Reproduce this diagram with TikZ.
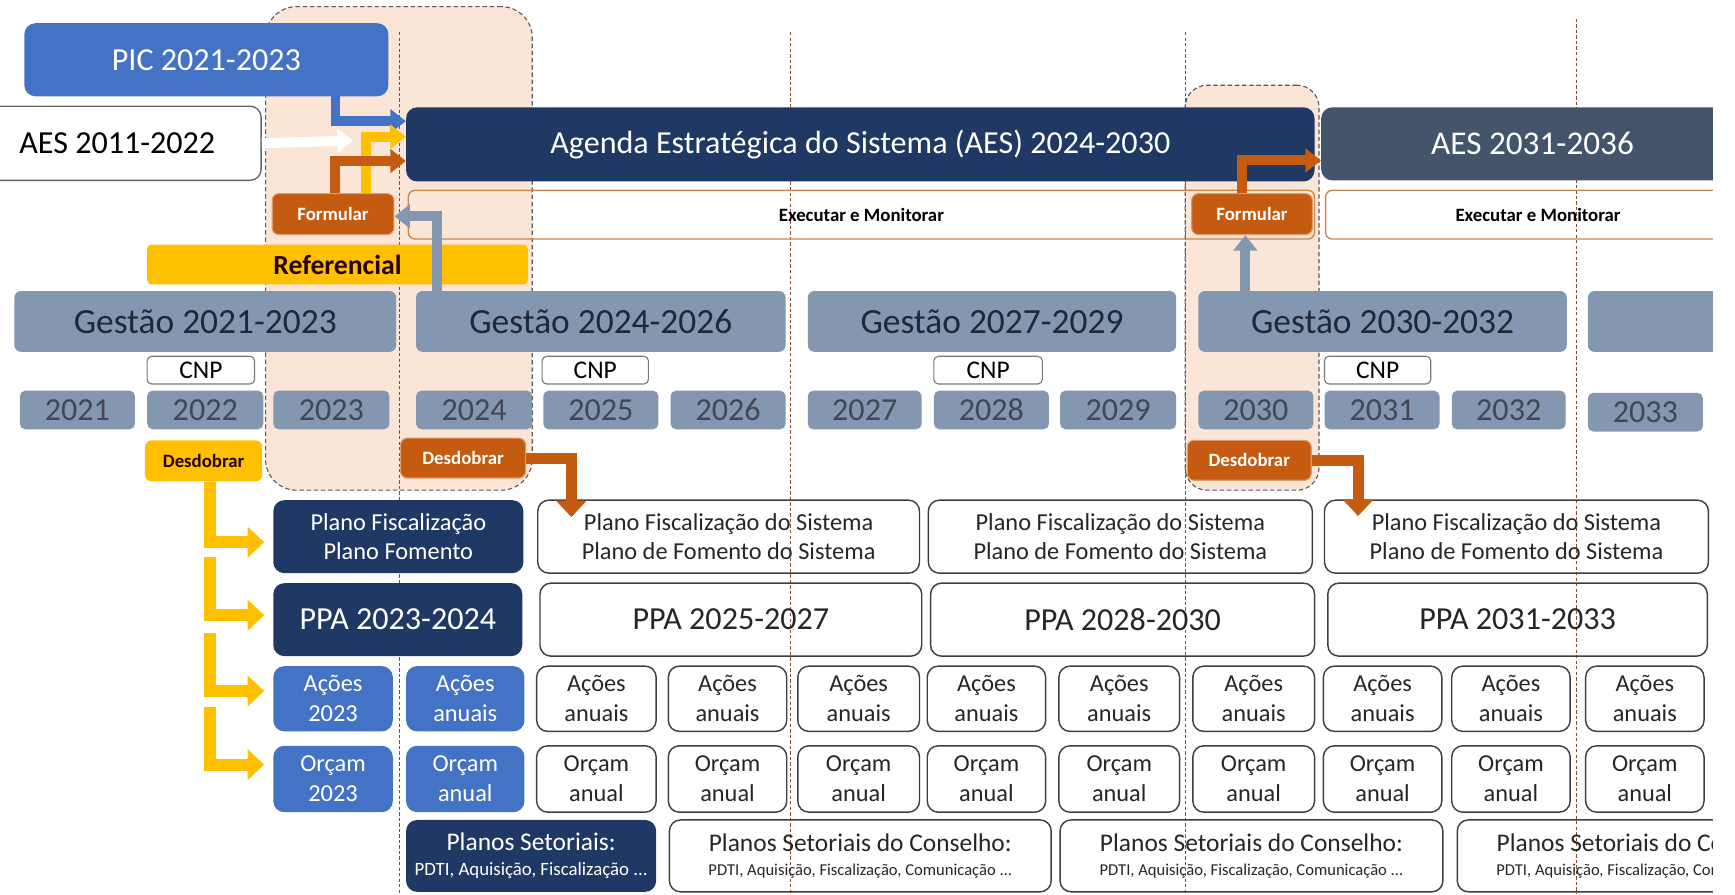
\documentclass[tikz,border=0pt]{standalone}
\usepackage{fontspec}
\setmainfont{Carlito}
\usepackage{tikz}
\usetikzlibrary{positioning,arrows.meta,calc}

\definecolor{navy}{HTML}{1F3864}
\definecolor{midblue}{HTML}{4472C4}
\definecolor{slate}{HTML}{44546A}
\definecolor{greyblue}{HTML}{8497B0}
\definecolor{rust}{HTML}{C55A11}
\definecolor{gold}{HTML}{FFC000}
\definecolor{peach}{HTML}{FBE5D6}
\definecolor{inktext}{HTML}{1E2838}
\definecolor{boxline}{HTML}{3F3F3F}
\definecolor{sepline}{HTML}{8A4A30}
\definecolor{execline}{HTML}{C8874F}

\newcommand{\fsz}[2]{\fontsize{#1}{#2}\selectfont}

\begin{document}
\begin{tikzpicture}[
        x=1pt, y=-1pt,
        boxspan/.style n args={4}{minimum width={(#3-#1)*1pt}, minimum height={(#4-#2)*1pt},
                                  at={({(#1+#3)/2},{(#2+#4)/2})}},
        boxbase/.style={inner sep=0pt, align=center, rounded corners=10pt},
        darkbox/.style={boxbase, fill=navy, text=white, font=\fsz{22}{27}},
        bluebox/.style={boxbase, fill=midblue, text=white, font=\fsz{22}{27}},
        plainbox/.style={boxbase, draw=boxline, line width=1.3pt, text=black!85, font=\fsz{22}{27}},
        gestao/.style={boxbase, rounded corners=6pt, fill=greyblue, text=inktext, font=\fsz{32}{36}},
        yearbox/.style={boxbase, rounded corners=5pt, fill=greyblue, text=inktext!85, font=\fsz{29}{32}},
        cnpbox/.style={boxbase, rounded corners=4pt, draw=boxline!70, fill=white, line width=1pt, text=black, font=\fsz{23}{26}},
        stepbox/.style={boxbase, rounded corners=6pt, font=\fsz{17}{20}\bfseries},
        rustbox/.style={stepbox, fill=rust, draw=rust!60!white, line width=1pt, text=white},
        goldbox/.style={stepbox, fill=gold, text=black!85!red},
        execbar/.style={boxbase, rounded corners=6pt, draw=execline, line width=1.2pt, text=black, font=\fsz{17}{20}\bfseries},
        peachzone/.style={inner sep=0pt, fill=peach, draw=black!65, dash pattern=on 4pt off 2.5pt, line width=1pt},
        yearsep/.style={draw=sepline, line width=0.7pt, dash pattern=on 3pt off 2pt},
        toparrow/.style={line width=9pt, -{Triangle[length=14pt,width=21pt]}},
        fatarrow/.style={line width=11pt, -{Triangle[length=15pt,width=27pt]}},
    ]
    \useasboundingbox (0,0) rectangle (1568,808);

    % formulation periods
    \node[peachzone, rounded corners=28pt, boxspan={240}{6}{481}{443}] (zone1) {};
    \node[peachzone, rounded corners=20pt, boxspan={1071}{77}{1192}{443}] (zone2) {};

    \foreach \sx/\sy in {361/29, 714/29, 1071/29, 1425/17}
        \draw[yearsep] (\sx,\sy) -- (\sx,808);

    % agendas
    \node[boxbase, fill=midblue, text=white, font=\fsz{29}{33}, boxspan={22}{21}{351}{87}] (pic) {PIC 2021-2023};
    \node[boxbase, draw=boxline!80, line width=1.2pt, fill=white, font=\fsz{29}{33}, boxspan={-24}{96}{236}{163}] (aesold) {AES 2011-2022};
    \node[boxbase, fill=navy, text=white, font=\fsz{29}{33}, boxspan={367}{97}{1188}{164}] (agenda) {Agenda Estratégica do Sistema (AES) 2024-2030};
    \node[boxbase, fill=slate, text=white, font=\fsz{30}{33}, boxspan={1194}{97}{1576}{163}] (aesnew) {AES 2031-2036};
    \node[execbar, boxspan={369}{172}{1188}{216}] (exec1) {Executar e Monitorar};
    \node[execbar, boxspan={1198}{172}{1582}{216}] (exec2) {Executar e Monitorar};
    \node[rustbox, boxspan={246}{175}{356}{212}] (form1) {Formular};
    \node[rustbox, boxspan={1077}{175}{1186}{212}] (form2) {Formular};
    \node[goldbox, rounded corners=4pt, font=\fsz{25}{28}\bfseries, boxspan={133}{221}{477}{257}] (ref) {Referencial};

    % gestoes
    \node[gestao, boxspan={13}{263}{358}{318}] (gest1) {Gestão 2021-2023};
    \node[gestao, boxspan={376}{263}{710}{318}] (gest2) {Gestão 2024-2026};
    \node[gestao, boxspan={730}{263}{1063}{318}] (gest3) {Gestão 2027-2029};
    \node[gestao, boxspan={1083}{263}{1416}{318}] (gest4) {Gestão 2030-2032};
    \node[gestao, boxspan={1435}{263}{1769}{318}] (gest5) {};

    \node[cnpbox, boxspan={133}{322}{230}{347}] (cnp1) {CNP};
    \node[cnpbox, boxspan={490}{322}{586}{347}] (cnp2) {CNP};
    \node[cnpbox, boxspan={844}{322}{942}{347}] (cnp3) {CNP};
    \node[cnpbox, boxspan={1197}{322}{1293}{347}] (cnp4) {CNP};

    \foreach \yr/\xa/\xb in {2021/18/122, 2022/133/238, 2023/247/352, 2024/376/481,
            2025/491/595, 2026/606/710, 2027/730/833, 2028/844/948, 2029/958/1063,
            2030/1083/1187, 2031/1197/1301, 2032/1312/1415}
        \node[yearbox, boxspan={\xa}{353}{\xb}{388}] (y\yr) {\yr};
    \node[yearbox, boxspan={1435}{355}{1539}{390}] (y2033) {2033};

    \node[goldbox, boxspan={131}{398}{237}{435}] (desd0) {Desdobrar};
    \node[rustbox, boxspan={362}{396}{475}{432}] (desd1) {Desdobrar};
    \node[rustbox, boxspan={1073}{398}{1185}{434}] (desd2) {Desdobrar};

    % planos
    \node[darkbox, boxspan={247}{452}{473}{518}] (plano0) {Plano Fiscalização\\Plano Fomento};
    \node[plainbox, boxspan={486}{452}{831}{518}] (plano1) {Plano Fiscalização do Sistema\\Plano de Fomento do Sistema};
    \node[plainbox, boxspan={839}{452}{1186}{518}] (plano2) {Plano Fiscalização do Sistema\\Plano de Fomento do Sistema};
    \node[plainbox, boxspan={1197}{452}{1544}{518}] (plano3) {Plano Fiscalização do Sistema\\Plano de Fomento do Sistema};

    \node[darkbox, font=\fsz{29}{33}, boxspan={247}{527}{472}{593}] (ppa0) {PPA 2023-2024};
    \node[plainbox, font=\fsz{29}{33}, boxspan={488}{527}{833}{593}] (ppa1) {PPA 2025-2027};
    \node[plainbox, font=\fsz{29}{33}, boxspan={841}{527}{1188}{593}] (ppa2) {PPA 2028-2030};
    \node[plainbox, font=\fsz{29}{33}, boxspan={1200}{527}{1543}{593}] (ppa3) {PPA 2031-2033};

    \node[bluebox, boxspan={247}{602}{355}{661}] (acao0) {Ações\\2023};
    \node[bluebox, boxspan={367}{602}{474}{661}] (acaoA) {Ações\\anuais};
    \node[bluebox, boxspan={247}{674}{355}{734}] (orc0) {Orçam\\2023};
    \node[bluebox, boxspan={367}{674}{474}{734}] (orcA) {Orçam\\anual};
    \foreach \k/\xa/\xb in {1/485/593, 2/604/711, 3/721/831, 4/838/945, 5/957/1066,
            6/1078/1188, 7/1196/1303, 8/1312/1419, 9/1433/1540} {
        \node[plainbox, boxspan={\xa}{602}{\xb}{661}] (acao\k) {Ações\\anuais};
        \node[plainbox, boxspan={\xa}{674}{\xb}{734}] (orc\k) {Orçam\\anual};
    }

    \node[darkbox, font=\fsz{23}{27}, boxspan={367}{741}{593}{806}] (setor0)
        {Planos Setoriais:\\[-5pt]{\fsz{17}{19}PDTI, Aquisição, Fiscalização ...}};
    \node[plainbox, font=\fsz{23}{27}, boxspan={605}{741}{950}{806}] (setor1)
        {Planos Setoriais do Conselho:\\[-5pt]{\fsz{15}{17}PDTI, Aquisição, Fiscalização, Comunicação ...}};
    \node[plainbox, font=\fsz{23}{27}, boxspan={958}{741}{1304}{806}] (setor2)
        {Planos Setoriais do Conselho:\\[-5pt]{\fsz{15}{17}PDTI, Aquisição, Fiscalização, Comunicação ...}};
    \node[plainbox, font=\fsz{23}{27}, boxspan={1317}{741}{1662}{806}] (setor3)
        {Planos Setoriais do Conselho:\\[-5pt]{\fsz{15}{17}PDTI, Aquisição, Fiscalização, Comunicação ...}};

    % arrows into the agendas
    \coordinate (oldend) at (319,127);
    \draw[toparrow, white] (aesold.east) -- (oldend);
    \draw[toparrow, midblue] ([xshift=-48pt]pic.south east) |- ([yshift=21pt]agenda.west);
    \draw[toparrow, gold] ([xshift=-26pt]form1.north east) |- ([yshift=7pt]agenda.west);
    \draw[toparrow, rust] ([xshift=2pt]form1.north) |- ([yshift=-15pt]agenda.west);
    \draw[toparrow, greyblue] ([xshift=19pt]gest2.north west) |- ([yshift=-2pt]form1.east);
    \draw[toparrow, rust] ([xshift=-9pt]form2.north) |- ([yshift=-15pt]aesnew.west);
    \draw[toparrow, greyblue] ($(form2.south |- gest4.north)+(-6,0)$) -- ([xshift=-6pt]form2.south);

    % desdobrar
    \coordinate (fork2) at (190,503);
    \coordinate (fork3) at (190,572);
    \coordinate (fork4) at (190,639);
    \draw[fatarrow, gold, shorten >=8pt] ([xshift=6pt]desd0.south) |- ([yshift=-5pt]plano0.west);
    \draw[fatarrow, gold, shorten >=8pt] (fork2) |- ([yshift=4pt]ppa0.west);
    \draw[fatarrow, gold, shorten >=8pt] (fork3) |- ([yshift=7pt]acao0.west);
    \draw[fatarrow, gold, shorten >=8pt] (fork4) |- ([yshift=13pt]orc0.west);
    \draw[fatarrow, rust, line width=10pt] (desd1.east) -| ([xshift=31pt,yshift=-16pt]plano1.north west);
    \draw[fatarrow, rust, line width=10pt] (desd2.east) -| ([xshift=31pt,yshift=-15pt]plano3.north west);

    \fill[white] (1548,-5) rectangle (1590,815);
\end{tikzpicture}
\end{document}
